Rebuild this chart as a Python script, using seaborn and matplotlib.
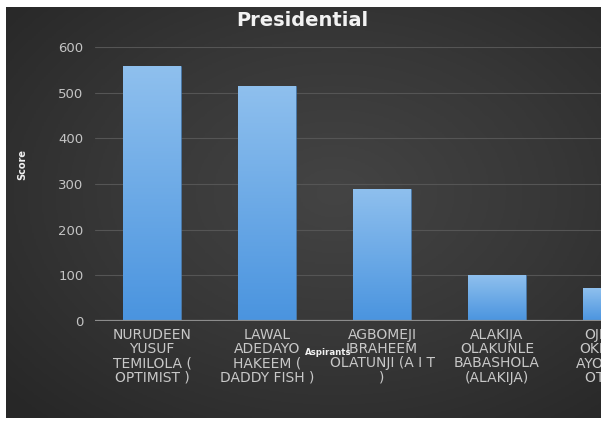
import numpy as np
import pandas as pd
import matplotlib
matplotlib.use("Agg")
import matplotlib.pyplot as plt
from matplotlib.colors import LinearSegmentedColormap
import seaborn as sns

aspirants = [
    "NURUDEEN\nYUSUF\nTEMILOLA (\nOPTIMIST )",
    "LAWAL\nADEDAYO\nHAKEEM (\nDADDY FISH )",
    "AGBOMEJI\nIBRAHEEM\nOLATUNJI (A I T\n)",
    "ALAKIJA\nOLAKUNLE\nBABASHOLA\n(ALAKIJA)",
    "OJIKUTU\nOKIKIOLA\nAYOMIDE (\nOTAYO )",
]
scores = [558, 515, 290, 100, 72]
yticks = [0, 100, 200, 300, 400, 500, 600]

sns.set_theme(style="white")
plt.rcParams["font.family"] = ["DejaVu Sans"]

W, H = 601, 421
fig = plt.figure(figsize=(W / 100, H / 100), dpi=100, facecolor="white")

# dark radial background panel
bg = fig.add_axes([6 / W, 3 / H, (W - 6) / W, 411 / H], zorder=0)
bg.axis("off")
yy, xx = np.mgrid[0:200, 0:300]
cx, cy = 0.55 * 300, 0.45 * 200
r = np.sqrt(((xx - cx) / 300) ** 2 + ((yy - cy) / 200) ** 2)
r = np.clip(r / 0.75, 0, 1)
bgmap = LinearSegmentedColormap.from_list("bg", ["#444444", "#373737", "#272727"])
bg.imshow(r, cmap=bgmap, aspect="auto", extent=[0, 1, 0, 1], vmin=0, vmax=1)
bg.set_xlim(0, 1)
bg.set_ylim(0, 1)

# axes wider than the figure: the right side is cut off as in the reference
ax = fig.add_axes([94.5 / W, 100 / H, 5 * 115 / W, 274 / H], zorder=1)
ax.set_facecolor("none")
df = pd.DataFrame({"Aspirants": aspirants, "Score": scores})
sns.barplot(data=df, x="Aspirants", y="Score", ax=ax, width=0.5,
            color="#5fa3e6", saturation=1, edgecolor="#4a7fb5", linewidth=0.4)

grad = np.linspace(0, 1, 256).reshape(-1, 1)
barmap = LinearSegmentedColormap.from_list("bar", ["#4a94df", "#8fc0ee"])
for p in list(ax.patches):
    x0, y0, w, h = p.get_x(), p.get_y(), p.get_width(), p.get_height()
    im = ax.imshow(grad, extent=[x0, x0 + w, y0, y0 + h], origin="lower",
                   aspect="auto", cmap=barmap, zorder=p.get_zorder() + 0.1)
    im.set_clip_path(p)

ax.set_xlim(-0.5, 4.5)
ax.set_ylim(0, 600)
ax.set_yticks(yticks)
ax.yaxis.grid(True, color="#555555", linewidth=0.8)
ax.set_axisbelow(True)
for s in ax.spines.values():
    s.set_visible(False)
ax.axhline(0, color="#8c8c8c", linewidth=1.6, zorder=3)

ax.tick_params(axis="y", length=0, colors="#c4c4c4", labelsize=9.5, pad=8)
ax.tick_params(axis="x", length=0, colors="#c8c8c8", labelsize=10, pad=5)
for t in ax.get_xticklabels():
    t.set_linespacing(1.02)
    t.set_multialignment("center")

ax.set_xlabel("Aspirants", fontsize=6.2, fontweight="bold", color="#f0f0f0")
ax.xaxis.set_label_coords((328 - 94.5) / (5 * 115), -(348 - 321) / 274)
ax.set_ylabel("Score", fontsize=7, fontweight="bold", color="#f0f0f0")
ax.yaxis.set_label_coords(-(94.5 - 27) / (5 * 115), (321 - 164) / 274)

fig.text(302 / W, 1 - 21 / H, "Presidential", ha="center", va="center",
         fontsize=14, fontweight="bold", color="#f2f2f2")

fig.savefig("out.png", dpi=100, facecolor="white")
